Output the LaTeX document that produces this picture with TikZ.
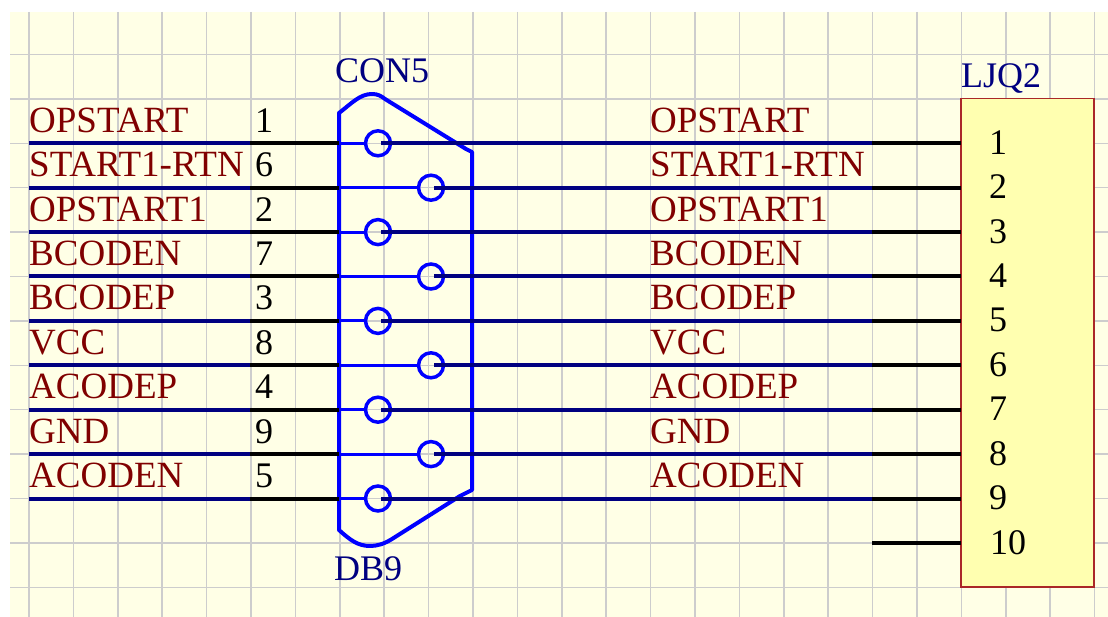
\documentclass[tikz,border=0pt]{standalone}
\usepackage{fontspec}
\setmainfont{Liberation Serif}
\usetikzlibrary{calc}
\definecolor{sheet}{RGB}{255,255,230}
\definecolor{gridgray}{RGB}{205,205,205}
\definecolor{netblue}{RGB}{0,0,128}
\definecolor{netred}{RGB}{128,0,0}
\definecolor{pinblue}{RGB}{0,0,255}
\definecolor{bodyyellow}{RGB}{255,255,176}
\definecolor{bodyred}{RGB}{170,40,40}
\newcommand{\schfont}{\fontsize{36}{40}\selectfont}
\newcommand{\netfont}{\fontsize{37}{40}\selectfont}

\begin{document}
\begin{tikzpicture}[
        x=1pt, y=-1pt,
        font=\schfont,
        gridline/.style={draw=gridgray, line width=1.5pt},
        netlabel/.style={anchor=base west, inner sep=0pt, text=netred, font=\netfont},
        pinnum/.style={anchor=base west, inner sep=0pt, text=black},
        partname/.style={anchor=base west, inner sep=0pt, text=netblue},
        hole/.style={draw=pinblue, circle, line width=3.5pt, minimum size=25pt, inner sep=0pt},
        shell/.style={draw=pinblue, line width=4pt, line join=round},
        stub/.style={draw=pinblue, line width=3pt},
        net/.style={draw=netblue, line width=4pt},
        lead/.style={draw=black, line width=4pt},
        body/.style={draw=bodyred, fill=bodyyellow, line width=1.5pt, outer sep=0pt, inner sep=0pt,
            minimum width=133pt, minimum height=488.5pt, anchor=north west},
    ]
        \useasboundingbox (0,0) rectangle (1108,617);
        \fill[sheet] (10,12) rectangle (1108,617);

        % --- sheet grid ---
        \foreach \k in {0,...,24} \draw[gridline] ({29+44.4*\k},12) -- ({29+44.4*\k},617);
        \foreach \k in {0,...,12} \draw[gridline] (10,{54.5+44.4*\k}) -- (1108,{54.5+44.4*\k});

        % --- header LJQ2 ---
        \node[body] (ljq) at (961,98.5) {};
        \node[partname] (ljqname) at (961,88) {LJQ2};

        % --- DB9 outline ---
        \draw[shell] (339,113) .. controls (352,103) and (360,94) .. (372,94)
            .. controls (378,94) and (381,96) .. (385,99) -- (466,149) -- (472,152) -- (472,490)
            -- (460,496) -- (392,539) .. controls (384,544) and (377,546) .. (370,546)
            .. controls (358,546) and (350,540) .. (339,530) -- cycle;
        \node[partname] (conname) at (335,83) {CON5};
        \node[partname] (dbname) at (334,580) {DB9};

        % --- rows: odd pins sit left, even pins sit right ---
        \foreach \i/\lbl/\num/\cx in {0/OPSTART/1/378, 1/START1-RTN/6/431, 2/OPSTART1/2/378,
            3/BCODEN/7/431, 4/BCODEP/3/378, 5/VCC/8/431, 6/ACODEP/4/378, 7/GND/9/431, 8/ACODEN/5/378} {
            \coordinate (row\i) at (29,{143.3+44.4*\i});
            \coordinate (shellin\i) at (339,{143.3+44.4*\i});
            \coordinate (split\i) at (250,{143.3+44.4*\i});
            \coordinate (rsplit\i) at (872,{143.3+44.4*\i});

            \node[netlabel] (ll\i) at ($(row\i)+(0,-11)$) {\lbl};
            \node[pinnum] (ln\i) at ($(split\i)+(5,-11)$) {\num};
            \node[netlabel] (rl\i) at ($(row\i)+(621,-11)$) {\lbl};
            \node[hole] (h\i) at (\cx,{143.3+44.4*\i}) {};

            % wiring: net, lead, stub into the hole, then out to LJQ2
            \draw[net] (row\i) -- (split\i);
            \draw[lead] (split\i) -- (shellin\i);
            \draw[stub] (shellin\i) -- (h\i.west);
            \draw[net] ($(h\i)+(3,0)$) -- (rsplit\i);
            \draw[lead] (rsplit\i) -- (rsplit\i -| ljq.west);

            \pgfmathtruncatemacro{\n}{\i+1}
            \node[pinnum] (rn\i) at ($(row\i)+(960,11)$) {\n};
        }

        % --- pin 10 is left open ---
        \coordinate (open10) at (872,543);
        \draw[lead] (open10) -- (open10 -| ljq.west);
        \node[pinnum] (rn9) at (990,554) {10};
\end{tikzpicture}
\end{document}
